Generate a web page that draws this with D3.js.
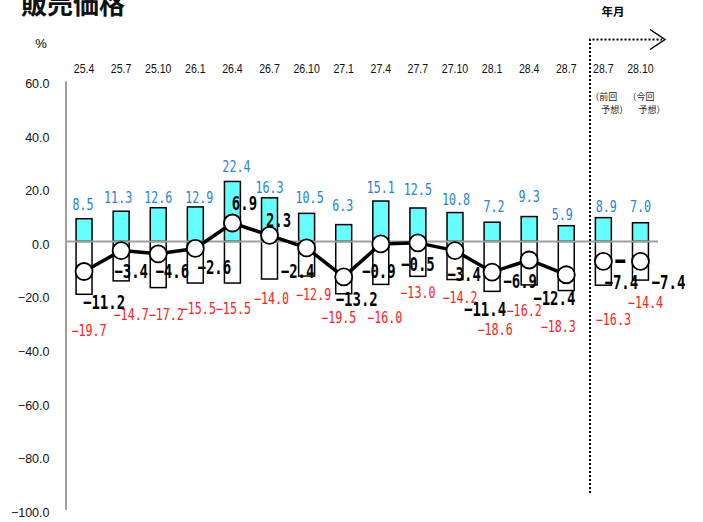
<!DOCTYPE html>
<html>
<head>
<meta charset="utf-8">
<script src="https://cdn.jsdelivr.net/npm/d3@7"></script>
<style>
  html, body { margin: 0; padding: 0; background: #fff; }
  svg { display: block; }
</style>
</head>
<body>
<svg id="chart" width="703" height="522"></svg>
<script>
// ---- data ----
const categories = ["25.4","25.7","25.10","26.1","26.4","26.7","26.10","27.1","27.4","27.7","27.10","28.1","28.4","28.7","28.7","28.10"];
const upValues   = [8.5, 11.3, 12.6, 12.9, 22.4, 16.3, 10.5, 6.3, 15.1, 12.5, 10.8, 7.2, 9.3, 5.9, 8.9, 7.0];
const downValues = [-19.7, -14.7, -17.2, -15.5, -15.5, -14.0, -12.9, -19.5, -16.0, -13.0, -14.2, -18.6, -16.2, -18.3, -16.3, -14.4];
const diValues   = [-11.2, -3.4, -4.6, -2.6, 6.9, 2.3, -2.4, -13.2, -0.9, -0.5, -3.4, -11.4, -6.9, -12.4, -7.4, -7.4];
const actualCount = 14; // first 14 are actual results, last 2 are forecasts
const yTicks = [60, 40, 20, 0, -20, -40, -60, -80, -100];
const title = "販売価格";
const unitLabel = "%";
const periodLabel = "年月";
const forecastNotes = [["（前回", "予想）"], ["（今回", "予想）"]];

// ---- label placement nudges (layout, px) ----
const upDx   = [-1,-3,0,4,4,0,3,-1,0,0,1,2,0,-4,3,0];
const upDy   = [-9,-8,-5,-4,-9,-5,-10,-14,-8,-13,-8,-10,-15,-6,-6,-11];
const downDx = [5,10,8,3,1,2,7,-5,4,0,5,3,-5,-8,10,5];
const downDy = [42,39,32,31,31,25,24,29,39,22,23,44,31,41,40,28];
const diDx   = [20,10,14,19,12,9,-9,13,-2,0,9,-7,-9,-12,18,28];
const diDy   = [37,27,24,26,-13,-8,30,29,34,28,30,44,28,30,28,28];

// ---- setup ----
const svg = d3.select("#chart");
const idx = d3.range(categories.length);

const x = d3.scaleBand().domain(idx).range([65.5, 659]).paddingInner(0.57).paddingOuter(0.285);
const y = d3.scaleLinear().domain([-100, 60]).range([509.5, 80.7]);
const cx = i => x(i) + x.bandwidth() / 2;
const fmt = d3.format(".1f");

// title
svg.append("text").attr("x", 21).attr("y", 14)
  .attr("font-family", "Noto Sans CJK JP").attr("font-weight", 700)
  .attr("font-size", 26).attr("fill", "#111").text(title);

// unit
svg.append("text").attr("x", 41).attr("y", 48).attr("text-anchor", "middle")
  .attr("font-family", "Liberation Sans, Arial").attr("font-size", 13).text(unitLabel);

// period label
svg.append("text").attr("x", 613).attr("y", 15.5).attr("text-anchor", "middle")
  .attr("font-family", "Noto Sans CJK JP").attr("font-weight", 700)
  .attr("font-size", 11.5).text(periodLabel);

// y axis
const yAxis = d3.axisLeft(y).tickValues(yTicks).tickFormat(fmt).tickSize(0).tickSizeOuter(0).tickPadding(16);
const gy = svg.append("g").attr("transform", "translate(65.5,0)").call(yAxis);
gy.select(".domain").attr("stroke", "#a0a0a0").attr("stroke-width", 2);
gy.selectAll("text").attr("font-family", "Liberation Sans, Arial").attr("font-size", 12.5)
  .attr("fill", "#111").attr("dy", "0.55em");

// category labels (top)
svg.append("g").selectAll("text").data(idx).join("text")
  .attr("transform", i => `translate(${cx(i)},73) scale(0.88,1)`)
  .attr("text-anchor", "middle")
  .attr("font-family", "Liberation Sans, Arial").attr("font-size", 12)
  .attr("fill", "#111")
  .text(i => categories[i]);

// forecast notes
forecastNotes.forEach((lines, k) => {
  const i = actualCount + k;
  const t = svg.append("text").attr("font-family", "Noto Sans CJK JP").attr("font-size", 9).attr("fill", "#222");
  t.append("tspan").attr("x", cx(i) - 13).attr("y", 100).text(lines[0]);
  t.append("tspan").attr("x", cx(i) - 2).attr("y", 112.5).text(lines[1]);
});

// bars
const bars = svg.append("g").attr("stroke", "#000").attr("stroke-width", 1.5);
bars.selectAll("rect.up").data(idx).join("rect").attr("class", "up")
  .attr("x", i => x(i)).attr("width", x.bandwidth())
  .attr("y", i => y(upValues[i])).attr("height", i => y(0) - y(upValues[i]))
  .attr("fill", "#66ffff");
bars.selectAll("rect.down").data(idx).join("rect").attr("class", "down")
  .attr("x", i => x(i)).attr("width", x.bandwidth())
  .attr("y", y(0)).attr("height", i => y(downValues[i]) - y(0))
  .attr("fill", "#fff");

// zero line
svg.append("line").attr("x1", 65.5).attr("x2", 658).attr("y1", y(0)).attr("y2", y(0))
  .attr("stroke", "#a0a0a0").attr("stroke-width", 2);

// forecast divider (dotted) with arrow
svg.append("path")
  .attr("d", `M590,493 L590,39.5 L662,39.5`)
  .attr("fill", "none").attr("stroke", "#000").attr("stroke-width", 2)
  .attr("stroke-dasharray", "2,2");
svg.append("path").attr("d", "M650,29.5 L665,39.5 L650,49.5")
  .attr("fill", "none").attr("stroke", "#000").attr("stroke-width", 1.5);

// DI line (actual)
const line = d3.line().x(i => cx(i)).y(i => y(diValues[i]));
svg.append("path").datum(d3.range(actualCount)).attr("d", line)
  .attr("fill", "none").attr("stroke", "#000").attr("stroke-width", 3.5).attr("stroke-linejoin", "round");
// forecast connector
svg.append("path").datum(d3.range(actualCount, categories.length)).attr("d", line)
  .attr("fill", "none").attr("stroke", "#000").attr("stroke-width", 3.5)
  .attr("stroke-dasharray", "0 12 10 100");

// circles
svg.append("g").selectAll("circle").data(idx).join("circle")
  .attr("cx", i => cx(i)).attr("cy", i => y(diValues[i])).attr("r", 8.5)
  .attr("fill", "#fff").attr("stroke", "#000").attr("stroke-width", 1.8);

// labels
function labels(values, dx, dy, color, size, weight, sx, cls) {
  svg.append("g").selectAll("text." + cls).data(idx).join("text").attr("class", cls)
    .attr("transform", i => `translate(${cx(i) + dx[i]},${y(values[i]) + dy[i]}) scale(${sx},1)`)
    .attr("text-anchor", "middle")
    .attr("font-family", "DejaVu Sans Mono, monospace")
    .attr("font-size", size).attr("font-weight", weight)
    .attr("fill", color)
    .text(i => fmt(values[i]));
}
labels(upValues, upDx, upDy, "#2585d0", 15, 400, 0.78, "up");
labels(downValues, downDx, downDy, "#ff2020", 15, 400, 0.78, "down");
labels(diValues, diDx, diDy, "#000", 20, 700, 0.7, "di");
</script>
</body>
</html>
